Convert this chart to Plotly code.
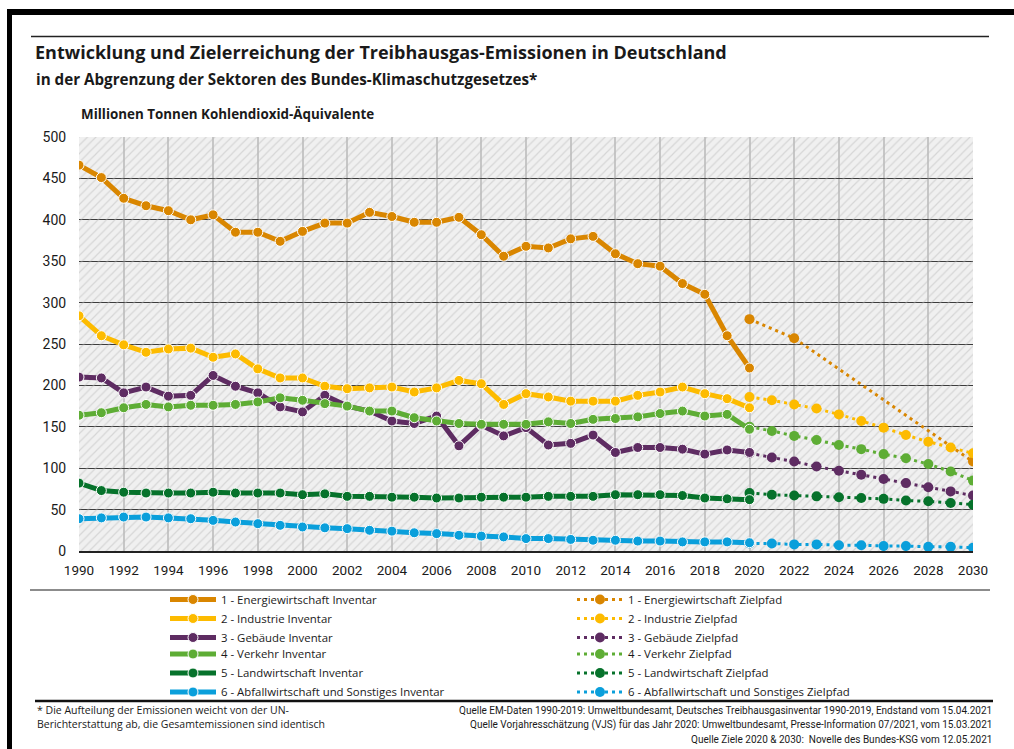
import plotly.graph_objects as go

# ---------------- data ----------------
years_inv = list(range(1990, 2021))
years_ziel = list(range(2020, 2031))
years_energie_ziel = [2020, 2022, 2030]

energie_inv = [466, 451, 426, 417, 411, 400, 406, 385, 385, 374, 386, 396, 396, 409, 404, 397,
               397, 403, 382, 356, 368, 366, 377, 380, 359, 347, 344, 323, 310, 260, 221]
industrie_inv = [284, 260, 249, 240, 244, 245, 234, 238, 220, 209, 209, 199, 196, 197, 198, 192,
                 197, 206, 202, 177, 190, 186, 181, 181, 181, 188, 192, 198, 190, 184, 173]
gebaeude_inv = [210, 209, 191, 198, 187, 188, 212, 199, 191, 174, 168, 188, 175, 169, 157, 154,
                163, 127, 152, 139, 149, 128, 130, 140, 119, 125, 125, 123, 117, 122, 119]
verkehr_inv = [164, 167, 173, 177, 174, 176, 176, 177, 180, 185, 182, 178, 175, 169, 169, 161,
               157, 154, 153, 153, 153, 156, 154, 159, 160, 162, 166, 169, 163, 165, 147]
landw_inv = [82, 73, 71, 70, 70, 70, 71, 70, 70, 70, 68, 69, 66, 66, 65, 65,
             64, 64, 65, 65, 65, 66, 66, 66, 68, 68, 68, 67, 64, 63, 62]
abfall_inv = [39, 40, 41, 41, 40, 39, 37, 35, 33, 31, 29, 28, 27, 25, 24, 22,
              21, 19, 18, 17, 15, 15, 14, 13, 13, 12, 12, 11, 11, 11, 10]

energie_ziel = [280, 257, 108]
industrie_ziel = [186, 182, 177, 172, 165, 157, 149, 140, 132, 125, 118]
gebaeude_ziel = [118, 113, 108, 102, 97, 92, 87, 82, 77, 72, 67]
verkehr_ziel = [150, 145, 139, 134, 128, 123, 117, 112, 105, 96, 85]
landw_ziel = [70, 68, 67, 66, 65, 64, 63, 61, 60, 58, 56]
abfall_ziel = [9, 9, 8, 8, 7, 7, 6, 6, 5, 5, 4]

sector_names = ["1 - Energiewirtschaft", "2 - Industrie", "3 - Gebäude", "4 - Verkehr",
                "5 - Landwirtschaft", "6 - Abfallwirtschaft und Sonstiges"]
sector_colors = ["#D98600", "#FDBB00", "#5E2C62", "#5EAD35", "#06722B", "#0A9FDB"]

x_ticks = list(range(1990, 2031, 2))
y_ticks = list(range(0, 501, 50))

# ---------------- layout helpers ----------------
W, H = 1014, 749
L, R, T, B = 79, 973, 137, 551


def px(x):
    return (x - L) / (R - L)


def py(y):
    return (B - y) / (B - T)


FONT = "Roboto, 'Open Sans', sans-serif"
FONT2 = "'Open Sans', Roboto, sans-serif"
TXT = "#1a1a1a"

fig = go.Figure()

# hatched plot background
fig.add_trace(go.Scatter(
    x=[x_ticks[0], x_ticks[-1], x_ticks[-1], x_ticks[0], x_ticks[0]],
    y=[y_ticks[0], y_ticks[0], y_ticks[-1], y_ticks[-1], y_ticks[0]],
    mode="lines", fill="toself", line=dict(width=0),
    fillcolor="rgba(0,0,0,0)",
    fillpattern=dict(shape="/", fgcolor="#bcbcbc", bgcolor="rgba(0,0,0,0)", size=6, solidity=0.2),
    hoverinfo="skip", showlegend=False))

inv = [energie_inv, industrie_inv, gebaeude_inv, verkehr_inv, landw_inv, abfall_inv]
ziel = [energie_ziel, industrie_ziel, gebaeude_ziel, verkehr_ziel, landw_ziel, abfall_ziel]
ziel_x = [years_energie_ziel] + [years_ziel] * 5

for i in range(6):
    fig.add_trace(go.Scatter(
        x=ziel_x[i], y=ziel[i], mode="lines+markers",
        name=sector_names[i] + " Zielpfad",
        line=dict(color=sector_colors[i], width=3, dash="3px,4px"),
        marker=dict(symbol="circle", size=10, color=sector_colors[i]),
        legend="legend2" if i < 3 else "legend4", legendrank=i + 1))
for i in range(6):
    fig.add_trace(go.Scatter(
        x=years_inv, y=inv[i], mode="lines+markers",
        name=sector_names[i] + " Inventar",
        line=dict(color=sector_colors[i], width=5),
        marker=dict(symbol="circle", size=10, color=sector_colors[i],
                    line=dict(color="white", width=1)),
        legend="legend" if i < 3 else "legend3", legendrank=i + 1))

shapes = []


def hline(y, x0, x1, color, width):
    shapes.append(dict(type="line", xref="paper", yref="paper", x0=px(x0), x1=px(x1),
                       y0=py(y), y1=py(y), line=dict(color=color, width=width), layer="above"))


def rect(x0, y0, x1, y1, color):
    shapes.append(dict(type="rect", xref="paper", yref="paper", x0=px(x0), x1=px(x1),
                       y0=py(y0), y1=py(y1), fillcolor=color, line=dict(width=0), layer="above"))


rect(7, 9, W, 15, "black")
rect(7, 9, 12, H, "black")
hline(36.5, 31, 989, "#222222", 1.5)
hline(590, 30, 990, "#666666", 1.5)
hline(701, 35, 993, "#111111", 2.5)

annotations = []


def text(x, y, s, size, bold=False, xanchor="left", color=TXT, family=FONT2):
    annotations.append(dict(
        xref="paper", yref="paper", x=px(x), y=py(y), xanchor=xanchor, yanchor="middle",
        text=("<b>%s</b>" % s) if bold else s, showarrow=False,
        font=dict(family=family, size=size, color=color)))


text(33, 52, "Entwicklung und Zielerreichung der Treibhausgas-Emissionen in Deutschland", 18, True)
text(34, 79, "in der Abgrenzung der Sektoren des Bundes-Klimaschutzgesetzes*", 15.2, True)
text(79, 114, "Millionen Tonnen Kohlendioxid-Äquivalente", 13.4, True)
text(35, 710, "* Die Aufteilung der Emissionen weicht von der UN-", 10.5)
text(35, 724, "Berichterstattung ab, die Gesamtemissionen sind identisch", 10.5)
text(994, 710, "Quelle EM-Daten 1990-2019: Umweltbundesamt, Deutsches Treibhausgasinventar 1990-2019, Endstand vom 15.04.2021", 10, xanchor="right", family=FONT)
text(994, 725, "Quelle Vorjahresschätzung (VJS) für das Jahr 2020: Umweltbundesamt, Presse-Information 07/2021, vom 15.03.2021", 10, xanchor="right", family=FONT)
text(994, 739, "Quelle Ziele 2020 &amp; 2030:  Novelle des Bundes-KSG vom 12.05.2021", 10, xanchor="right", family=FONT)

legend_common = dict(orientation="v", yanchor="top", xanchor="left", tracegroupgap=0,
                     font=dict(family=FONT2, size=11.4, color=TXT), bgcolor="rgba(0,0,0,0)",
                     itemwidth=46, borderwidth=0)

fig.update_layout(
    width=W, height=H,
    margin=dict(l=L, r=W - R, t=T, b=H - B, pad=0, autoexpand=False),
    paper_bgcolor="white", plot_bgcolor="#f0f0f0",
    font=dict(family=FONT, color=TXT),
    showlegend=True,
    legend=dict(x=px(165), y=py(585), **legend_common),
    legend2=dict(x=px(572), y=py(585), **legend_common),
    legend3=dict(x=px(165), y=py(639.5), **legend_common),
    legend4=dict(x=px(572), y=py(639.5), **legend_common),
    shapes=shapes, annotations=annotations,
    xaxis=dict(range=[x_ticks[0], x_ticks[-1]], tickvals=x_ticks, showgrid=True,
               gridcolor="#c6c6c6", gridwidth=1.6, zeroline=False,
               showline=True, linecolor="#222222", linewidth=2,
               ticks="outside", ticklen=6, tickcolor="rgba(0,0,0,0)",
               tickfont=dict(family=FONT, size=13.5, color=TXT), fixedrange=True),
    yaxis=dict(range=[y_ticks[0], y_ticks[-1]], tickvals=y_ticks, showgrid=True,
               gridcolor="#3c3c3c", gridwidth=1.2, zeroline=False,
               ticks="outside", ticklen=9, tickcolor="rgba(0,0,0,0)",
               tickfont=dict(family=FONT, size=14, color=TXT), fixedrange=True),
)

fig.write_html("out.html", config={"displayModeBar": False},
               post_script="document.body.style.margin='0';document.body.style.overflow='hidden';")
